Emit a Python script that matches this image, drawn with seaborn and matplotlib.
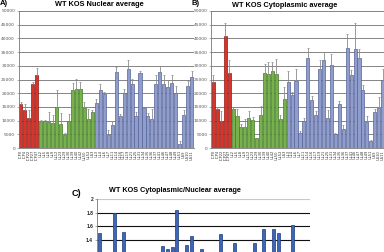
import seaborn as sns
import matplotlib.pyplot as plt
import pandas as pd
import numpy as np

# gene labels (illegible in the source, best guess)
genes = ["ICP0", "ICP4", "ICP22", "ICP27", "ICP47",
         "UL2", "UL5", "UL8", "UL9", "UL12", "UL23", "UL29", "UL30", "UL39",
         "UL40", "UL42", "UL50", "UL52", "US3",
         "UL3", "UL4", "UL6", "UL7", "UL11", "UL14", "UL16", "UL17", "UL19",
         "UL21", "UL25", "UL31", "UL34", "UL35", "UL36", "UL37", "UL41", "UL46",
         "UL47", "UL48", "UL49", "UL51", "US9", "US10", "US11"]
klasse = ["IE"] * 5 + ["E"] * 14 + ["L"] * 25

nuclear = [16200, 14000, 10800, 23200, 26800,
           9400, 9800, 9400, 9100, 15000, 8800, 4800, 10000, 21100, 21600, 21600, 14600, 10600, 13200,
           16500, 21000, 19800, 4900, 8500, 27800, 11800, 19900, 28900, 23500, 11800, 27400, 14500,
           11800, 10600, 23500, 27700, 23200, 22300, 23800, 20100, 1600, 12200, 22600, 26000]
nuclear_err = [700, 2000, 3000, 1000, 2500,
               1000, 500, 3800, 3000, 6000, 3800, 800, 2500, 2700, 3500, 2500, 2200, 3500, 800,
               1500, 2200, 500, 1500, 1200, 1800, 700, 1800, 3200, 1800, 1200, 800, 500,
               1000, 3500, 3000, 2200, 3500, 2500, 2700, 2700, 1000, 1800, 2000, 2200]

cyto = [24000, 14300, 10000, 41000, 27500,
        14300, 11800, 7700, 7500, 11000, 10300, 3500, 12000, 27500, 27000, 28000, 27000, 10500, 17800,
        24000, 19500, 24300, 5500, 10000, 33000, 17500, 12000, 29000, 32000, 11000, 30300, 5000,
        16000, 7000, 36500, 26500, 36000, 33000, 21000, 9500, 2500, 13300, 14500, 25000]
cyto_err = [2500, 500, 3500, 4500, 4500,
            500, 2300, 1000, 3000, 2500, 1000, 300, 3500, 3000, 4500, 3500, 5500, 1500, 4500,
            4000, 1000, 4500, 600, 1000, 3500, 1300, 1500, 3000, 3000, 3000, 4000, 600,
            1000, 1500, 5000, 2000, 9500, 3000, 2000, 2000, 600, 800, 4000, 4000]

ratio = [1.50, 1.02, 0.93, 1.79, 1.03, 1.52, 1.21, 0.82, 0.82, 0.73, 1.17, 0.73, 1.15, 1.31,
         1.27, 1.30, 1.84, 0.99, 1.32, 1.45, 0.93, 1.27, 1.12, 1.18, 1.19, 1.48, 0.60, 1.00,
         1.36, 0.93, 1.10, 0.34, 1.35, 0.66, 1.56, 0.96, 1.56, 1.50, 0.88, 0.47, 1.62, 1.09,
         0.64, 0.96]

farben = {"IE": "#d8342a", "E": "#78b04c", "L": "#8f9dcc"}
kanten = {"IE": "#8e1a12", "E": "#3f7a25", "L": "#56639a"}

df = pd.DataFrame({"gen": genes, "klasse": klasse, "nuc": nuclear, "nuc_err": nuclear_err,
                   "cyt": cyto, "cyt_err": cyto_err, "ratio": ratio})

fig = plt.figure(figsize=(3.84, 2.52), dpi=100)
fig.patch.set_facecolor("white")


def balken(ax, spalte, fehler):
    sns.barplot(data=df, x="gen", y=spalte, hue="klasse", palette=farben, dodge=False,
                saturation=1, width=0.78, legend=False, ax=ax, zorder=2)
    for p in ax.patches:
        fc = p.get_facecolor()
        for k, c in farben.items():
            if np.allclose(fc[:3], plt.matplotlib.colors.to_rgb(c)):
                p.set_edgecolor(kanten[k])
        p.set_linewidth(0.5)
    pos = np.arange(len(df))
    ax.errorbar(pos, df[spalte], yerr=[np.zeros(len(df)), df[fehler]], fmt="none",
                ecolor="#8a8a8a", elinewidth=0.6, capsize=1.0, capthick=0.5, zorder=3)
    ax.set_xlim(-0.6, len(df) - 0.4)
    ax.set_ylim(0, 50000)
    ax.set_yticks(np.arange(0, 50001, 5000))
    ax.set_yticklabels([str(v) for v in range(0, 50001, 5000)], fontsize=3.2, color="#555555")
    ax.yaxis.grid(True, color="#707070", linewidth=0.6, zorder=0)
    ax.set_axisbelow(True)
    ax.tick_params(axis="y", length=1.5, width=0.4, pad=1, color="#777777")
    ax.tick_params(axis="x", length=0, pad=1.5)
    ax.set_xticks(pos)
    ax.set_xticklabels(df["gen"], rotation=90, fontsize=2.6, color="#333333")
    ax.set_xlabel("")
    ax.set_ylabel("")
    for s in ["top", "right"]:
        ax.spines[s].set_visible(False)
    ax.spines["left"].set_color("#777777")
    ax.spines["bottom"].set_color("#777777")
    ax.spines["left"].set_linewidth(0.6)
    ax.spines["bottom"].set_linewidth(0.6)


ax_a = fig.add_axes([18.5 / 384, 104 / 252, 175.5 / 384, 137 / 252])
balken(ax_a, "nuc", "nuc_err")
ax_b = fig.add_axes([211 / 384, 104 / 252, 174 / 384, 137 / 252])
balken(ax_b, "cyt", "cyt_err")

fig.text(99.5 / 384, 1 - 5 / 252, "WT KOS Nuclear average", fontsize=5.3, fontweight="bold",
         family="Liberation Sans", ha="center", va="center")
fig.text(284.5 / 384, 1 - 5.5 / 252, "WT KOS Cytoplasmic average", fontsize=5.3, fontweight="bold",
         family="Liberation Sans", ha="center", va="center")
fig.text(0 / 384, 1.0, "A)", fontsize=5.5, fontweight="bold", family="Liberation Sans",
         ha="left", va="top")
fig.text(192 / 384, 1.0, "B)", fontsize=5.5, fontweight="bold", family="Liberation Sans",
         ha="left", va="top")

# panel C, lower part falls outside the picture
ax_c = fig.add_axes([97.3 / 384, (252 - 334.3) / 252, 212.5 / 384, 135 / 252])
sns.barplot(data=df, x="gen", y="ratio", color="#3d66b6", saturation=1, width=0.62,
            edgecolor="#1d3a7c", linewidth=0.5, ax=ax_c, zorder=2)
ax_c.set_xlim(-0.5, len(df) - 0.5)
ax_c.set_ylim(0, 2)
c_ticks = [1.2, 1.4, 1.6, 1.8, 2.0]
ax_c.set_yticks(c_ticks)
ax_c.set_yticklabels(["", "1.4", "1.6", "1.8", "2"],
                     fontsize=3.6, fontweight="bold", family="Liberation Sans", color="#222222")
ax_c.yaxis.grid(True, color="#111111", linewidth=0.8, zorder=0)
ax_c.get_ygridlines()[-1].set_color("#c8c8c8")
ax_c.set_axisbelow(True)
ax_c.tick_params(axis="y", length=1.5, width=0.4, pad=1.5, color="#666666")
ax_c.set_xticks([])
ax_c.set_xlabel("")
ax_c.set_ylabel("")
for s in ["top", "right", "bottom"]:
    ax_c.spines[s].set_visible(False)
ax_c.spines["left"].set_color("#777777")
ax_c.spines["left"].set_linewidth(0.6)

fig.text(109 / 384, 1 - 191 / 252, "WT KOS Cytoplasmic/Nuclear average", fontsize=5.2,
         fontweight="bold", family="Liberation Sans", ha="left", va="center")
fig.text(72 / 384, 1 - 194 / 252, "C)", fontsize=6.5, fontweight="bold", family="Liberation Sans",
         ha="left", va="center")

fig.savefig("out.png", dpi=100)
